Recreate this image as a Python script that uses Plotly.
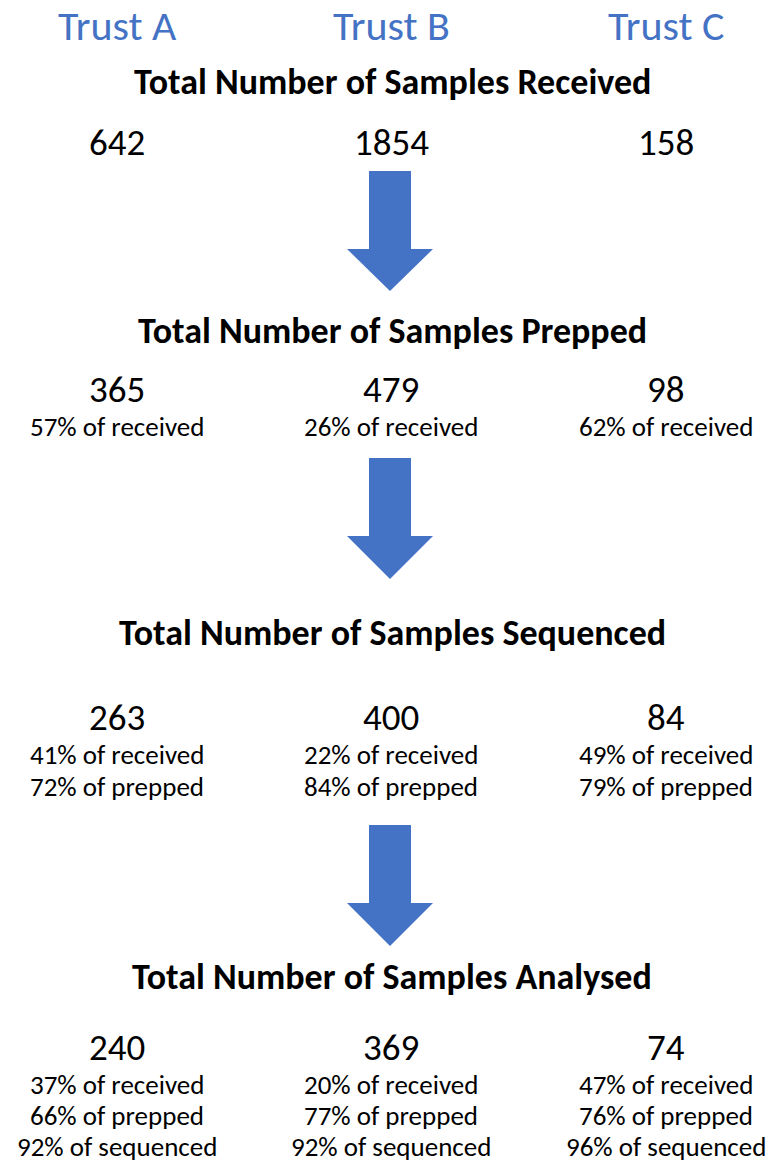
import plotly.graph_objects as go

# ---- data ----
trusts = ["Trust A", "Trust B", "Trust C"]
stages = ["Received", "Prepped", "Sequenced", "Analysed"]
received = [642, 1854, 158]
prepped = [365, 479, 98]
sequenced = [263, 400, 84]
analysed = [240, 369, 74]
prepped_pct_received = [57, 26, 62]
sequenced_pct_received = [41, 22, 49]
sequenced_pct_prepped = [72, 84, 79]
analysed_pct_received = [37, 20, 47]
analysed_pct_prepped = [66, 77, 76]
analysed_pct_sequenced = [92, 92, 96]

# ---- layout (pixel positions) ----
W, H = 769, 1164
FONT = "Carlito, 'Liberation Sans Narrow', 'Open Sans', sans-serif"
BLUE = "#4472C4"
col_x = [117, 391, 666]
stage_title_y = [82, 331, 633, 977]
number_y = [142, 389, 717, 1047]
line_off = [37, 37, 37, 37]
line_dy = [32, 32, 32, 31]

fig = go.Figure()
fig.update_layout(
    width=W, height=H, margin=dict(l=0, r=0, t=0, b=0),
    paper_bgcolor="white", plot_bgcolor="white",
    xaxis=dict(range=[0, W], visible=False, fixedrange=True),
    yaxis=dict(range=[H, 0], visible=False, fixedrange=True),
    showlegend=False,
)

ann = []
for x, t in zip(col_x, trusts):
    ann.append(dict(x=x, y=25, text=t, font=dict(family=FONT, size=42, color=BLUE)))

for y, s in zip(stage_title_y, stages):
    ann.append(dict(x=392, y=y, text=f"<b>Total Number of Samples {s}</b>",
                    font=dict(family=FONT, size=36, color="black")))

stage_values = [received, prepped, sequenced, analysed]
stage_lines = [
    [],
    [(prepped_pct_received, "received")],
    [(sequenced_pct_received, "received"), (sequenced_pct_prepped, "prepped")],
    [(analysed_pct_received, "received"), (analysed_pct_prepped, "prepped"),
     (analysed_pct_sequenced, "sequenced")],
]
for si, (vals, lines) in enumerate(zip(stage_values, stage_lines)):
    for ci, x in enumerate(col_x):
        ann.append(dict(x=x, y=number_y[si], text=str(vals[ci]),
                        font=dict(family=FONT, size=37, color="black")))
        for li, (pcts, ref) in enumerate(lines):
            ann.append(dict(x=x, y=number_y[si] + line_off[si] + li * line_dy[si],
                            text=f"{pcts[ci]}% of {ref}",
                            font=dict(family=FONT, size=27, color="black")))

for a in ann:
    a.update(xref="x", yref="y", showarrow=False, xanchor="center", yanchor="middle",
             borderpad=0)
fig.update_layout(annotations=ann)

# arrows: (top, head_start, tip)
arrows = [(171, 249, 291), (458, 536, 579), (825, 903, 946)]
shapes = []
for top, hs, tip in arrows:
    cx = 390
    path = (f"M {cx-21} {top} L {cx+21} {top} L {cx+21} {hs} L {cx+43} {hs} "
            f"L {cx} {tip} L {cx-43} {hs} L {cx-21} {hs} Z")
    shapes.append(dict(type="path", path=path, xref="x", yref="y",
                       fillcolor=BLUE, line=dict(width=0)))
fig.update_layout(shapes=shapes)

fig.write_html("out.html", config={"displayModeBar": False},
               post_script="document.body.style.margin='0';")
